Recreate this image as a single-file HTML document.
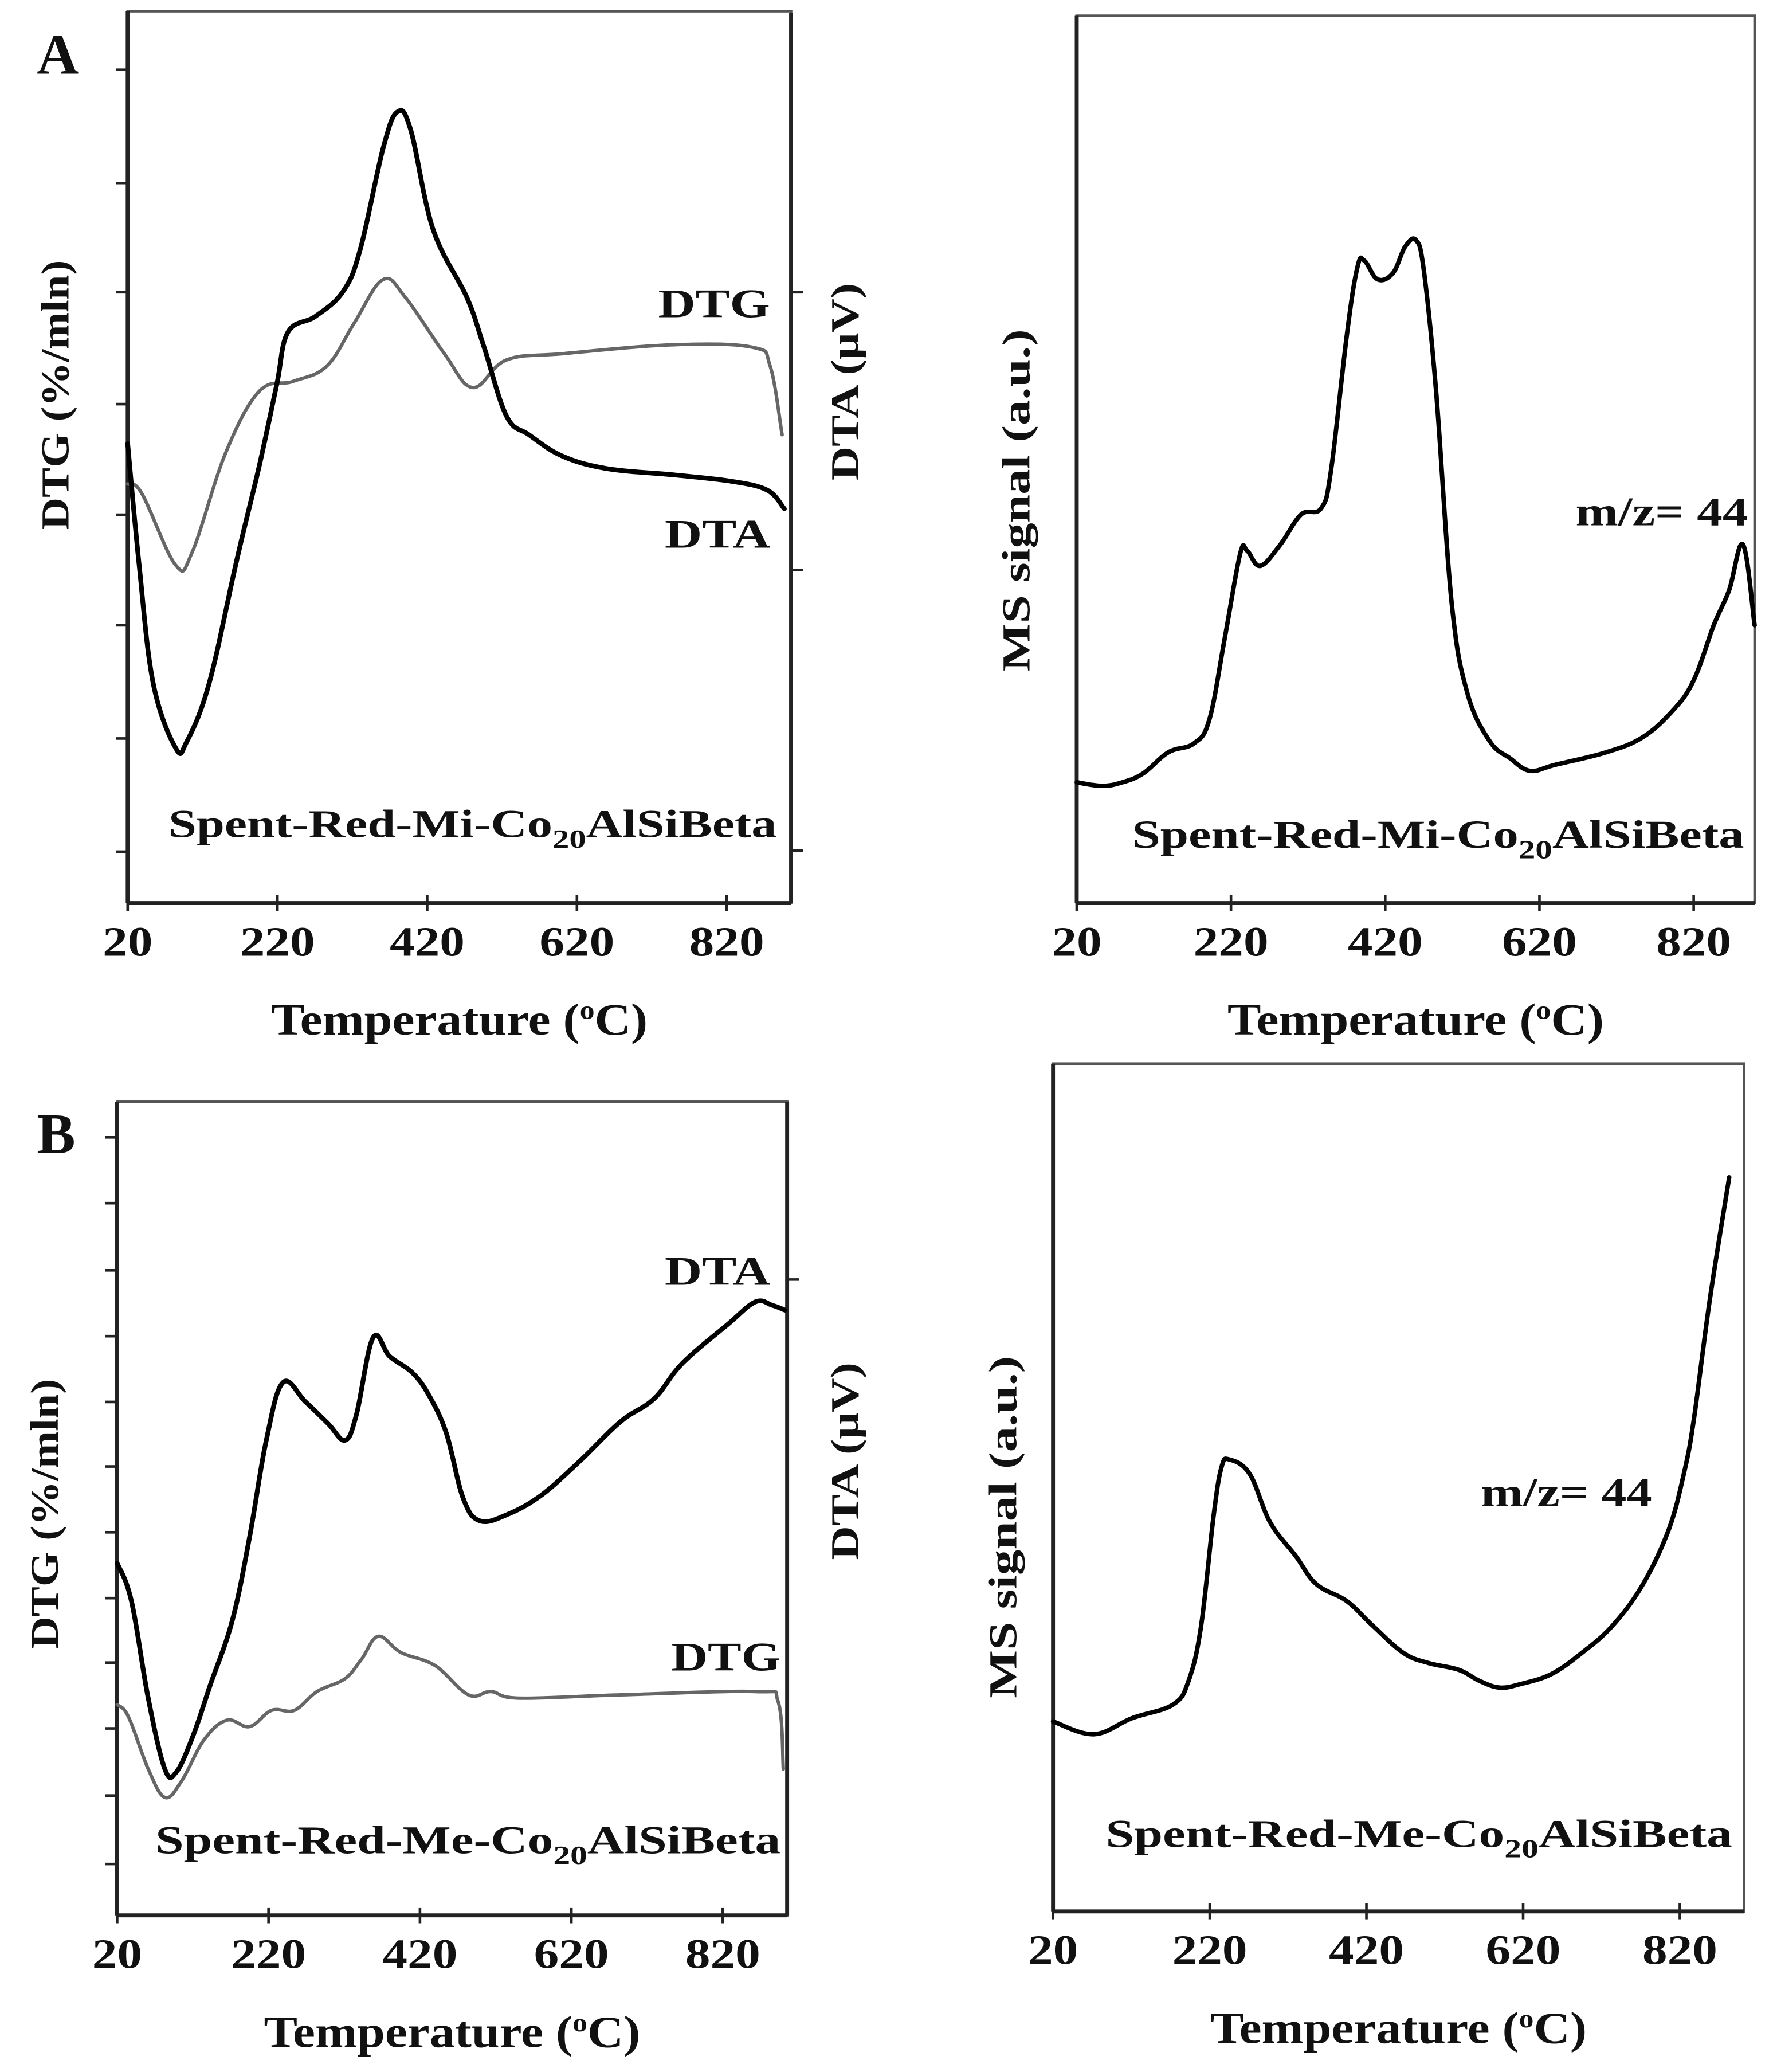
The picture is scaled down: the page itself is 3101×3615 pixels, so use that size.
<!DOCTYPE html>
<html><head><meta charset="utf-8"><style>
html,body{margin:0;padding:0;background:#fff;}
svg{display:block;}
text{font-family:"Liberation Serif",serif;font-weight:bold;fill:#111;}
</style></head><body>
<svg id="fig" xmlns="http://www.w3.org/2000/svg" width="3101" height="3615" viewBox="0 0 1350 1574" preserveAspectRatio="none"></svg>
<script>
// ---- data (temperature in °C, signal in arbitrary units 0-100) ----
const xTicks = [20, 220, 420, 620, 820];
const aDtaT = [20,35,54,84,99,129,166,196,219,234,271,308,331,361,380,398,428,473,496,526,556,601,661,750,825,874,897];
const aDtaV = [51.5,38.2,24.7,17.4,18.1,24.7,38.6,49.1,58.1,64.0,65.8,68.6,73.4,84.6,88.7,86.7,75.5,67.9,62.3,54.6,52.5,50.1,48.7,48.0,47.3,46.3,44.2];
const aDtgT = [20,39,84,106,151,196,241,286,323,361,391,443,481,526,601,750,855,878,894];
const aDtgV = [47.0,45.9,37.9,39.3,50.5,57.4,58.5,60.2,65.1,69.9,67.9,61.6,57.8,60.9,61.6,62.6,62.3,60.2,52.5];
const bDtaT = [20,39,61,83,98,120,143,172,195,217,239,269,299,321,336,358,380,410,432,455,477,499,536,581,633,685,729,767,826,863,885,902];
const bDtaV = [43.3,38.6,26.7,18.0,17.6,22.0,28.3,36.2,46.5,58.4,65.5,63.1,60.4,58.4,61.5,71.0,68.7,66.7,63.9,59.2,51.3,48.5,49.3,51.7,56.0,60.7,63.5,67.9,72.6,75.4,75.0,74.4];
const bDtgT = [20,35,61,83,105,135,165,195,224,254,284,321,343,365,395,440,484,514,551,685,863,893,900];
const bDtgV = [25.9,24.4,18.0,14.5,16.5,21.6,24.0,23.2,25.2,25.2,27.5,29.1,31.5,34.3,32.3,30.7,27.1,27.5,26.7,27.1,27.5,26.3,18.0];
const aMsT = [20,53,79,106,139,172,192,212,232,241,258,284,311,337,350,370,384,393,410,430,446,460,470,486,506,526,555,582,608,641,707,754,793,820,846,866,884,899];
const aMsV = [13.6,13.2,13.6,14.6,17.0,18.0,20.7,29.9,39.4,39.7,38.0,40.4,43.8,44.5,48.9,63.9,71.7,72.4,70.3,71.0,74.0,74.7,71.3,57.7,34.0,23.8,18.3,16.3,14.9,15.6,17.0,18.7,21.7,25.1,31.3,35.3,40.4,31.3];
const bMsT = [20,72,121,173,193,209,225,235,245,271,297,330,356,395,428,467,499,538,564,590,616,656,695,734,773,806,825,838,858,883];
const bMsV = [22.4,20.9,22.8,24.4,27.2,33.7,46.7,52.4,53.3,51.6,45.9,41.9,38.6,36.6,33.7,30.5,29.3,28.5,27.2,26.4,26.8,28.0,30.5,33.7,38.6,45.1,51.6,58.1,72.0,86.6];

const NS = "http://www.w3.org/2000/svg";
const svg = document.getElementById('fig');
function mk(tag, attrs, parent){ const e=document.createElementNS(NS,tag); for(const k in attrs) e.setAttribute(k,attrs[k]); (parent||svg).appendChild(e); return e; }
function scale(d0,d1,r0,r1){ return v => r0 + (v-d0)/(d1-d0)*(r1-r0); }
function smoothPath(pts){
  let d='M'+pts[0][0].toFixed(1)+','+pts[0][1].toFixed(1);
  for(let i=0;i<pts.length-1;i++){
    const p0=pts[i-1]||pts[i], p1=pts[i], p2=pts[i+1], p3=pts[i+2]||p2;
    const t=0.18;
    const c1=[p1[0]+(p2[0]-p0[0])*t, p1[1]+(p2[1]-p0[1])*t];
    const c2=[p2[0]-(p3[0]-p1[0])*t, p2[1]-(p3[1]-p1[1])*t];
    d+='C'+c1[0].toFixed(1)+','+c1[1].toFixed(1)+' '+c2[0].toFixed(1)+','+c2[1].toFixed(1)+' '+p2[0].toFixed(1)+','+p2[1].toFixed(1);
  }
  return d;
}

function panel(p){
  const g = mk('g',{});
  
  
  const sx = scale(p.tmin,p.tmax,p.x0,p.x1), sy = scale(0,100,p.yb,p.yt);
  const frame = mk('rect',{x:p.x0,y:p.yt,width:p.x1-p.x0,height:p.yb-p.yt,fill:'none',stroke:'#555','stroke-width':2},g);
  
  
  const la = mk('line',{x1:p.x0,y1:p.yt,x2:p.x0,y2:p.yb,stroke:'#222','stroke-width':3},g);
   
  const ba = mk('line',{x1:p.x0,y1:p.yb,x2:p.x1,y2:p.yb,stroke:'#222','stroke-width':3},g);
   
  if(p.rightAxisTop!==undefined){
    const ra = mk('line',{x1:p.x1,y1:p.rightAxisTop,x2:p.x1,y2:p.yb,stroke:'#222','stroke-width':3},g);
     
  }
  (p.leftTicks||[]).forEach(y=>{ const t=mk('line',{x1:p.x0-9,y1:y,x2:p.x0,y2:y,stroke:'#222','stroke-width':2},g);
      });
  (p.rightTicks||[]).forEach(y=>{ const t=mk('line',{x1:p.x1,y1:y,x2:p.x1+9,y2:y,stroke:'#222','stroke-width':2},g);
      });
  xTicks.forEach(v=>{
    const x=sx(v);
    const t=mk('line',{x1:x,y1:p.yb-6,x2:x,y2:p.yb+6,stroke:'#222','stroke-width':2},g);
     
    const l=mk('text',{x:x,y:p.yb+40,'font-size':32,'text-anchor':'middle',textLength:String(v).length*19,lengthAdjust:'spacingAndGlyphs'},g);
    l.textContent=v;
     
  });
  p.series.forEach(s=>{
    const pts = s.t.map((t,i)=>[sx(t), sy(s.v[i])]);
    const path = mk('path',{d:smoothPath(pts),fill:'none',stroke:s.color,'stroke-width':s.w,'stroke-linejoin':'round','stroke-linecap':'round'},g);
    
    
  });
  const xt = mk('text',{x:(p.x0+p.x1)/2,y:p.yb+100,'font-size':34,'text-anchor':'middle',textLength:286,lengthAdjust:'spacingAndGlyphs'},g);
  xt.innerHTML='Temperature (<tspan font-size="20" dy="-12">o</tspan><tspan dy="12">C)</tspan>';
   
  return g;
}
function txt(x,y,s,str,name,anchor,rot,len){
  const a={x:x,y:y,'font-size':s};
  if(anchor) a['text-anchor']=anchor;
  if(rot) a.transform='rotate(-90 '+x+' '+y+')';
  if(len){ a.textLength=len; a.lengthAdjust='spacingAndGlyphs'; }
  const e=mk('text',a); e.innerHTML=str;
   
  return e;
}

panel({name:'panel-a-thermal', x0:97,x1:601,yt:8.5,yb:686,tmin:20,tmax:906,rightAxisTop:10,
  leftTicks:[53,139,222,307,391,475,561,647], rightTicks:[222,433,646],
  series:[{name:'dtg-line-a',t:aDtgT,v:aDtgV,color:'#666',w:2.6},{name:'dta-line-a',t:aDtaT,v:aDtaV,color:'#000',w:3.6}]});
panel({name:'panel-a-ms', x0:818,x1:1333,yt:12,yb:686,tmin:20,tmax:899,
  series:[{name:'ms-line-a',t:aMsT,v:aMsV,color:'#000',w:3.4}]});
panel({name:'panel-b-thermal', x0:89,x1:598,yt:837,yb:1455,tmin:20,tmax:905,rightAxisTop:837,
  leftTicks:[864,914,965,1015,1065,1114,1164,1214,1263,1313,1364,1416], rightTicks:[972],
  series:[{name:'dtg-line-b',t:bDtgT,v:bDtgV,color:'#666',w:2.6},{name:'dta-line-b',t:bDtaT,v:bDtaV,color:'#000',w:3.6}]});
panel({name:'panel-b-ms', x0:800,x1:1325,yt:808,yb:1452,tmin:20,tmax:902,
  series:[{name:'ms-line-b',t:bMsT,v:bMsV,color:'#000',w:3.4}]});

const sub='Co<tspan font-size="20" dy="8">20</tspan><tspan dy="-8">AlSiBeta</tspan>';
txt(28,56,44,'A','panel-label-a');
txt(28,876,44,'B','panel-label-b');
txt(52,300,30,'DTG (%/mln)','y-axis-title-a','middle',true,205);
txt(652,290,30,'DTA (μV)','y2-axis-title-a','middle',true,150);
txt(782,380,30,'MS signal (a.u.)','ms-axis-title-a','middle',true,260);
txt(44,1150,30,'DTG (%/mln)','y-axis-title-b','middle',true,205);
txt(652,1110,30,'DTA (μV)','y2-axis-title-b','middle',true,150);
txt(772,1160,30,'MS signal (a.u.)','ms-axis-title-b','middle',true,260);
txt(500,241,31,'DTG','dtg-annotation-a',null,null,85);
txt(505,416,31,'DTA','dta-annotation-a',null,null,80);
txt(128,636,30,'Spent-Red-Mi-'+sub,'sample-label-a-left',null,null,462);
txt(860,644,30,'Spent-Red-Mi-'+sub,'sample-label-a-right',null,null,465);
txt(1197,399,31,'m/z= 44','mz-label-a',null,null,131);
txt(505,976,31,'DTA','dta-annotation-b',null,null,80);
txt(510,1269,31,'DTG','dtg-annotation-b',null,null,83);
txt(118,1408,30,'Spent-Red-Me-'+sub,'sample-label-b-left',null,null,475);
txt(840,1403,30,'Spent-Red-Me-'+sub,'sample-label-b-right',null,null,476);
txt(1125,1144,31,'m/z= 44','mz-label-b',null,null,130);
</script>
</body></html>
